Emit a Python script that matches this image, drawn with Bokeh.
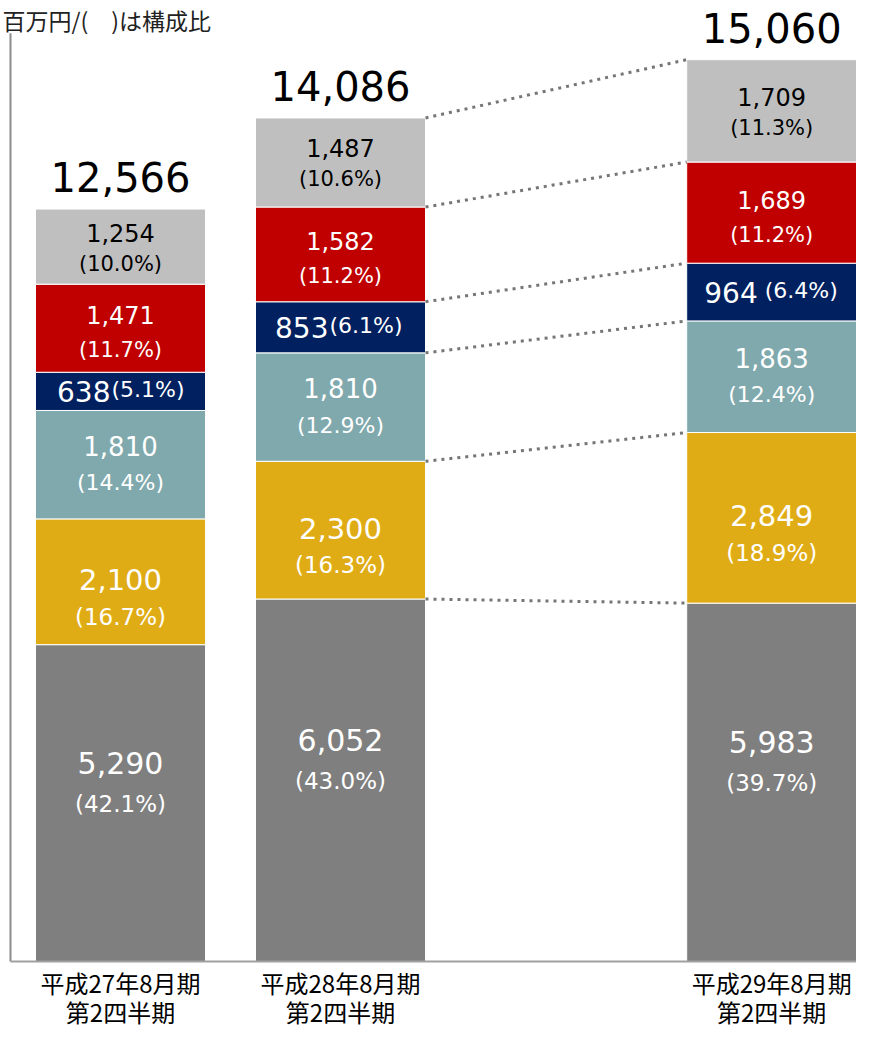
from bokeh.plotting import figure
from bokeh.models import Range1d, ColumnDataSource
from bokeh.core.properties import value
from bokeh.embed import file_html
from bokeh.resources import INLINE

# ---------------- data ----------------
period_line1 = ["平成27年8月期", "平成28年8月期", "平成29年8月期"]
period_line2 = ["第2四半期", "第2四半期", "第2四半期"]
seg_gray = [5290, 6052, 5983]
seg_gold = [2100, 2300, 2849]
seg_teal = [1810, 1810, 1863]
seg_navy = [638, 853, 964]
seg_red = [1471, 1582, 1689]
seg_light = [1254, 1487, 1709]
pct_gray = ["(42.1%)", "(43.0%)", "(39.7%)"]
pct_gold = ["(16.7%)", "(16.3%)", "(18.9%)"]
pct_teal = ["(14.4%)", "(12.9%)", "(12.4%)"]
pct_navy = ["(5.1%)", "(6.1%)", "(6.4%)"]
pct_red = ["(11.7%)", "(11.2%)", "(11.2%)"]
pct_light = ["(10.0%)", "(10.6%)", "(11.3%)"]
totals = [12566, 14086, 15060]
unit_label = "百万円/(　)は構成比"
axis_max = 15500

# ---------------- layout / style ----------------
SLOTS = [0, 1, 2.96]
BAR_W = 170 / 220
FIG_W, FIG_H = 856, 1029
BASE_PX = 961         # canvas y of baseline
K = (BASE_PX - 59) / 15060   # px per unit
PX_X = 220
XS = -0.5 - 10 / PX_X
XE = XS + FIG_W / PX_X
YE = BASE_PX / K
YS = -(FIG_H - BASE_PX) / K

COLORS = ["#7F7F7F", "#E0AC16", "#7FA9AD", "#002060", "#C00000", "#BFBFBF"]
NUM_FONT = value("DejaVu Sans")
JP_FONT = value("Noto Sans CJK JP")

series = [seg_gray, seg_gold, seg_teal, seg_navy, seg_red, seg_light]
pcts = [pct_gray, pct_gold, pct_teal, pct_navy, pct_red, pct_light]
names = ["gray", "gold", "teal", "navy", "red", "light"]
text_colors = ["white", "white", "white", "white", "white", "black"]
VAL_SIZE = ["30px", "29px", "26px", "28px", "24px", "24px"]
PCT_SIZE = ["23px", "23px", "22px", "22px", "21px", "21px"]
VAL_OFF = [-40, -2, -19, 0, -13, -14]
PCT_OFF = [1, 35, 18, 0, 22, 17]

p = figure(width=FIG_W, height=FIG_H, x_range=Range1d(XS, XE), y_range=Range1d(YS, YE),
           output_backend="svg", toolbar_location=None, x_axis_type=None, y_axis_type=None,
           min_border=0, outline_line_color=None, background_fill_color="white")
p.grid.visible = False

data = {"x": SLOTS}
for n, s in zip(names, series):
    data[n] = s
src = ColumnDataSource(data)
p.vbar_stack(names, x="x", width=BAR_W, color=COLORS, line_color="white", line_width=1, source=src)

# cumulative levels
cum = []
run = [0, 0, 0]
for s in series:
    bottom = run[:]
    run = [a + b for a, b in zip(run, s)]
    cum.append((bottom, run[:]))

# dotted connector lines between bar 2 and bar 3
levels = [c[1] for c in cum]
p.segment(x0=[SLOTS[1] + BAR_W / 2] * len(levels), y0=[lv[1] for lv in levels],
          x1=[SLOTS[2] - BAR_W / 2] * len(levels), y1=[lv[2] for lv in levels],
          line_color="#767676", line_width=3, line_dash="3 5")

# axes lines
p.segment(x0=[-0.5], y0=[0], x1=[-0.5], y1=[axis_max], line_color="#8C8C8C", line_width=2)
p.segment(x0=[-0.5], y0=[0], x1=[3.5], y1=[0], line_color="#A0A0A0", line_width=2)

# segment labels
for i, (s, pc) in enumerate(zip(series, pcts)):
    bottom, top = cum[i]
    centers = [(b + t) / 2 for b, t in zip(bottom, top)]
    vals = [f"{v:,}" for v in s]
    if names[i] == "navy":
        split = [-10, -12, -14]
        p.text(x=SLOTS, y=centers, text=vals, x_offset=split, text_align="right",
               text_baseline="middle", text_color="white", text_font=NUM_FONT,
               text_font_size=VAL_SIZE[i])
        gaps = [s_ + g for s_, g in zip(split, [1, 1, 7])]
        p.text(x=SLOTS, y=centers, text=pc, x_offset=gaps, y_offset=-2, text_align="left",
               text_baseline="middle", text_color="white", text_font=NUM_FONT,
               text_font_size=PCT_SIZE[i])
    else:
        p.text(x=SLOTS, y=centers, text=vals, y_offset=VAL_OFF[i], text_align="center",
               text_baseline="middle", text_color=text_colors[i], text_font=NUM_FONT,
               text_font_size=VAL_SIZE[i])
        p.text(x=SLOTS, y=centers, text=pc, y_offset=PCT_OFF[i], text_align="center",
               text_baseline="middle", text_color=text_colors[i], text_font=NUM_FONT,
               text_font_size=PCT_SIZE[i])

# totals
p.text(x=SLOTS, y=cum[-1][1], text=[f"{t:,}" for t in totals], y_offset=-32,
       text_align="center", text_baseline="middle", text_color="black",
       text_font=NUM_FONT, text_font_size="40px")

# category labels
p.text(x=SLOTS, y=[0, 0, 0], text=period_line1, y_offset=21, text_align="center",
       text_baseline="middle", text_color="black", text_font=JP_FONT, text_font_size="24px")
p.text(x=SLOTS, y=[0, 0, 0], text=period_line2, y_offset=50, text_align="center",
       text_baseline="middle", text_color="black", text_font=JP_FONT, text_font_size="24px")

# unit label
p.text(x=[XS + 2 / PX_X], y=[YE], text=[unit_label], y_offset=19, text_align="left",
       text_baseline="middle", text_color="#222222", text_font=JP_FONT, text_font_size="23px")

open("out.html", "w").write(file_html(p, INLINE))
